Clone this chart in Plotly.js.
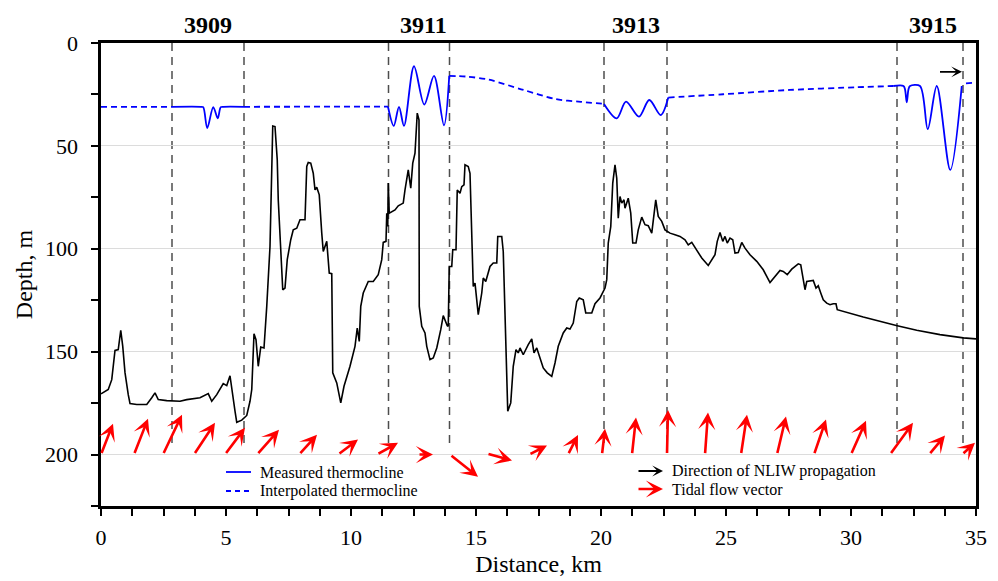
<!DOCTYPE html>
<html>
<head>
<meta charset="utf-8">
<script src="https://cdn.plot.ly/plotly-3.0.1.min.js"></script>
<style>html,body{margin:0;padding:0;background:#fff;}#chart{width:998px;height:581px;}</style>
</head>
<body>
<div id="chart"></div>
<script>
// ---- Data ----
// Seabed profile (distance km, depth m)
const bottomX = [0,0.29,0.43,0.56,0.69,0.79,0.87,0.96,1.09,1.16,1.43,1.83,2.03,2.16,2.29,2.63,3.16,3.43,3.96,4.29,4.43,4.63,4.89,5.03,5.16,5.23,5.36,5.43,5.63,5.83,5.96,6.03,6.12,6.2,6.29,6.39,6.52,6.63,6.76,6.87,6.96,7.05,7.09,7.19,7.27,7.36,7.45,7.59,7.69,7.83,7.96,8.16,8.23,8.29,8.39,8.49,8.56,8.63,8.73,8.83,8.89,9.03,9.13,9.23,9.27,9.43,9.59,9.72,9.96,10.16,10.25,10.33,10.39,10.49,10.69,10.89,11.09,11.23,11.29,11.4,11.43,11.47,11.49,11.53,11.76,11.89,12.09,12.16,12.29,12.39,12.47,12.56,12.6,12.65,12.72,12.73,12.73,12.83,12.96,13.03,13.16,13.29,13.43,13.59,13.69,13.85,13.89,13.93,14.03,14.07,14.2,14.25,14.36,14.43,14.52,14.56,14.69,14.76,14.83,14.89,14.96,15.09,15.23,15.29,15.39,15.56,15.69,15.83,15.87,16.03,16.09,16.16,16.27,16.39,16.49,16.6,16.69,16.76,16.89,17.09,17.23,17.32,17.43,17.69,17.85,18.03,18.16,18.29,18.49,18.63,18.76,18.89,19.03,19.13,19.29,19.39,19.63,19.76,19.96,20.16,20.23,20.29,20.39,20.47,20.56,20.63,20.69,20.76,20.83,20.92,20.96,21.09,21.19,21.27,21.4,21.49,21.63,21.76,21.89,22.03,22.09,22.19,22.29,22.43,22.56,22.76,22.96,23.16,23.36,23.49,23.63,23.83,24.03,24.29,24.43,24.56,24.65,24.76,24.87,24.96,25.05,25.16,25.27,25.36,25.49,25.63,25.76,25.96,26.23,26.49,26.76,26.96,27.16,27.29,27.45,27.63,27.89,27.99,28.07,28.16,28.23,28.49,28.6,28.69,28.79,28.89,29.03,29.16,29.29,29.4,29.45,30.49,31.85,32.63,33.56,34.49,35];
const bottomDepth = [170.5,168.4,163.6,149.4,149,139.6,147.4,160.2,170.9,175.2,175.7,175.7,172.4,170,173.3,173.8,174.1,173.3,172.4,170.4,174.1,170.9,165.5,166.5,161.7,168.4,178.9,184.3,183.3,181,174.1,168.4,141.3,144.2,157.1,147.7,148.2,128,98.9,40.3,40.6,56.8,76.2,100.5,119.9,119.1,105.3,95.6,90.8,90,85.9,85.9,60,58.1,58.4,63.3,71.4,70.1,73.8,92.4,101.3,96.4,111.8,112.1,160.3,165.2,174.9,166.8,157.1,147.4,138.5,145,128,121.5,115.9,115.9,112.6,105.3,96.9,96.4,82.7,89.2,68.1,82.7,81.1,79.1,77.8,71.4,61.7,70.5,58.4,53.5,43.8,34.1,37.4,92.4,128,137.7,140.9,147.4,153.9,153.1,148.2,139.3,132.5,137.4,137.7,108.6,108.6,100.5,100.5,71.4,73,69.8,68.9,59.2,60,63.3,98.9,118.3,116.7,132,121.5,114.2,115.9,108.6,106.9,106.9,94,94,101.3,128,178.9,174.9,157.1,149,150.6,148.2,151.5,146.6,143.8,150.6,148.2,157.9,160.3,162,155.5,147.4,140.9,138.5,139,136.1,125.6,123.9,124.8,131.2,131.2,126.7,123.9,119.1,115,97.2,89.2,68.1,59.2,65.7,85.1,74.6,77.8,76.2,80.3,75.4,82.7,97.2,97.2,90.8,84.6,88.3,88.8,92.4,85.9,76.2,84.3,86.7,90.8,92.4,93.2,94,95.6,98.1,96.9,100.5,104.5,108.1,105.3,102.9,96.4,92.1,96.4,94,97.2,94.8,95.6,102.1,101.8,96.9,99.7,102.9,106.1,110.2,116.4,113.4,110.5,111,112.6,109.9,107.3,107.8,113.4,119.9,115.9,115.4,119.1,118,121.5,124.8,126.4,127.2,126.7,126.7,129.6,133.2,137.4,139.6,141.7,143.3,143.8];

// Measured thermocline (solid), segments separated by null
const measuredX = [2.84,4.0,4.09,4.25,4.49,4.67,4.79,4.9,5.72, null, 11.48,11.71,11.92,12.12,12.52,12.93,13.32,13.72,13.93, null, 20.12,20.63,21.0,21.52,21.93,22.39,22.69, null, 31.69,32.1,32.16,32.23,32.3,32.36,32.76,33.07,33.43,33.97,34.43];
const measuredDepth = [31,31,31.2,41.4,31.2,36.6,31.2,31,31, null, 31,40.3,31,40.3,11.3,29.9,16,40,16, null, 29.6,36.6,28.5,35.8,27.7,35,26.5, null, 20.9,20.9,22.5,28.8,22.5,20.9,20.9,41.9,20.9,61.7,20.9];

// Interpolated thermocline (dashed)
const interpX = [0,2.84, null, 5.72,11.48, null, 13.93,14.6,15.5,16.9,18.2,19.2,20.12, null, 22.69,24.89,27.56,30.23,31.69, null, 34.6,35];
const interpDepth = [31,31, null, 31,30.9, null, 16,16.3,17.8,22.8,27.3,28.6,29.6, null, 26.5,24.9,22.8,21.5,20.9, null, 19.6,19.3];

// Station boundaries and labels
const stationBounds = [2.84,5.72,11.5,13.94,20.12,22.64,31.84,34.48];
const stationNames = ['3909','3911','3913','3915'];
const stationLabelX = [4.28,12.9,21.4,33.26];

// Tidal flow vectors: tail (x, depth) -> head (x, depth)
const tideTailX = [0,1.32,2.48,3.72,4.96,6.24,7.92,9.48,11.04,12.68,13.96,15.44,17.12,18.68,20.04,21.24,22.64,24.16,25.6,27.04,28.52,30.0,31.56,33.12,34.44];
const tideTailY = [200,200,200,200,200,200,200,200,200,200,200,199.5,200,200,200,200,200,200,200,200,200,200,200,200,200];
const tideHeadX = [0.48,1.88,3.24,4.56,5.76,7.12,8.64,10.28,11.88,13.28,15.08,16.44,17.84,19.08,20.16,21.4,22.68,24.28,25.84,27.4,29.0,30.6,32.48,33.76,34.96];
const tideHeadY = [185,182.6,180.6,184.6,187,188,190.4,192.7,194.3,200,210.8,202.9,195.6,190.5,187.4,182,178.3,179.6,180.6,181.5,183,183.6,184.6,190.7,194.3];

// NLIW propagation direction
const nliwTail = [33.5, 14];
const nliwHead = [34.44, 14];

// ---- Build ----
const FONT = '"Times New Roman", "Liberation Serif", "DejaVu Serif", serif';

const traces = [
  {x: bottomX, y: bottomDepth, type: 'scatter', mode: 'lines',
   line: {color: '#000', width: 1.6}, hoverinfo: 'skip', showlegend: false},
  {x: interpX, y: interpDepth, type: 'scatter', mode: 'lines', connectgaps: false,
   line: {color: '#0000ff', width: 1.8, dash: '6px,4px', shape: 'spline', smoothing: 0.8},
   hoverinfo: 'skip', showlegend: false},
  {x: measuredX, y: measuredDepth, type: 'scatter', mode: 'lines', connectgaps: false,
   line: {color: '#0000ff', width: 1.8, shape: 'spline', smoothing: 0.9},
   hoverinfo: 'skip', showlegend: false}
];

const shapes = stationBounds.map(b => ({
  type: 'line', xref: 'x', yref: 'y', x0: b, x1: b, y0: 0, y1: 197,
  line: {color: '#4d4d4d', width: 1.5, dash: '8px,6px'}, layer: 'below'
}));

// legend lines (paper coords)
const px2x = p => (p - 101) / 875;
const py2y = p => (506 - p) / 463;
shapes.push({type: 'line', xref: 'paper', yref: 'paper', x0: px2x(226), x1: px2x(251), y0: py2y(472), y1: py2y(472), line: {color: '#0000ff', width: 1.8}});
shapes.push({type: 'line', xref: 'paper', yref: 'paper', x0: px2x(226), x1: px2x(251), y0: py2y(491), y1: py2y(491), line: {color: '#0000ff', width: 1.8, dash: '5px,4px'}});

const annotations = [];
stationNames.forEach((n, i) => {
  annotations.push({x: stationLabelX[i], xref: 'x', y: py2y(25), yref: 'paper', text: '<b>' + n + '</b>',
    showarrow: false, font: {family: FONT, size: 24, color: '#000'}, xanchor: 'center', yanchor: 'middle'});
});
tideTailX.forEach((tx, i) => {
  annotations.push({x: tideHeadX[i], y: tideHeadY[i], xref: 'x', yref: 'y',
    ax: tx, ay: tideTailY[i], axref: 'x', ayref: 'y', text: '', showarrow: true,
    arrowhead: 3, arrowsize: 1.1, arrowwidth: 2.6, arrowcolor: '#ff0000', standoff: 0, startstandoff: 0});
});
annotations.push({x: nliwHead[0], y: nliwHead[1], xref: 'x', yref: 'y', ax: nliwTail[0], ay: nliwTail[1],
  axref: 'x', ayref: 'y', text: '', showarrow: true, arrowhead: 3, arrowsize: 1, arrowwidth: 1.8,
  arrowcolor: '#000', standoff: 0, startstandoff: 0});

// legend arrows & text
annotations.push({x: px2x(663), y: py2y(471), xref: 'paper', yref: 'paper', ax: -26, ay: 0, text: '', showarrow: true,
  arrowhead: 3, arrowsize: 1, arrowwidth: 1.8, arrowcolor: '#000', standoff: 0});
annotations.push({x: px2x(663), y: py2y(489), xref: 'paper', yref: 'paper', ax: -26, ay: 0, text: '', showarrow: true,
  arrowhead: 3, arrowsize: 1.1, arrowwidth: 2.6, arrowcolor: '#ff0000', standoff: 0});
const legText = [
  ['Measured thermocline', 258, 472],
  ['Interpolated thermocline', 258, 491],
  ['Direction of NLIW propagation', 670, 471],
  ['Tidal flow vector', 670, 489]
];
legText.forEach(t => annotations.push({x: px2x(t[1]), y: py2y(t[2]), xref: 'paper', yref: 'paper', text: t[0],
  showarrow: false, xanchor: 'left', yanchor: 'middle', font: {family: FONT, size: 16, color: '#000'}}));

const layout = {
  width: 998, height: 581,
  margin: {l: 101, r: 22, t: 43, b: 75},
  paper_bgcolor: '#fff', plot_bgcolor: '#fff',
  font: {family: FONT, color: '#000'},
  showlegend: false,
  xaxis: {
    range: [0, 35], tick0: 0, dtick: 5, ticks: 'outside', ticklen: 7, tickwidth: 2, tickcolor: '#000',
    showline: true, linecolor: '#000', linewidth: 2.6, mirror: true, showgrid: false, zeroline: false,
    tickfont: {family: FONT, size: 22}, ticklabelstandoff: 3,
    minor: {dtick: 1.25, tick0: 0, ticks: 'outside', ticklen: 7, tickwidth: 2, tickcolor: '#000', showgrid: false},
    title: {text: 'Distance, km', font: {family: FONT, size: 24}, standoff: 6}
  },
  yaxis: {
    range: [225, 0], tick0: 0, dtick: 50, ticks: 'outside', ticklen: 7, tickwidth: 2, tickcolor: '#000',
    showline: true, linecolor: '#000', linewidth: 2.6, mirror: true, showgrid: true, gridcolor: '#dcdcdc', gridwidth: 1,
    zeroline: false, tickfont: {family: FONT, size: 22}, ticklabelstandoff: 9,
    minor: {dtick: 25, tick0: 0, ticks: 'outside', ticklen: 7, tickwidth: 2, tickcolor: '#000', showgrid: false},
    title: {text: 'Depth, m', font: {family: FONT, size: 24}, standoff: 6}
  },
  shapes: shapes,
  annotations: annotations
};

Plotly.newPlot('chart', traces, layout, {staticPlot: true, displayModeBar: false});
</script>
</body>
</html>
